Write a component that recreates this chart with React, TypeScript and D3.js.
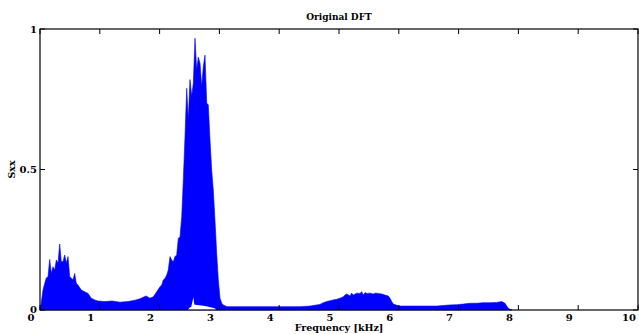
import React from "react";
import * as d3 from "d3";

// Frequency (kHz) and Sxx upper envelope
const freqs = [0, 0.017, 0.05, 0.079, 0.105, 0.134, 0.162, 0.189, 0.217, 0.246, 0.273, 0.301, 0.329, 0.356, 0.385, 0.413, 0.44, 0.468, 0.497, 0.523, 0.552, 0.58, 0.607, 0.635, 0.691, 0.747, 0.803, 0.858, 0.915, 0.97, 1.087, 1.204, 1.338, 1.472, 1.589, 1.672, 1.773, 1.839, 1.895, 1.952, 2.007, 2.035, 2.062, 2.09, 2.119, 2.145, 2.174, 2.202, 2.229, 2.258, 2.286, 2.313, 2.341, 2.37, 2.396, 2.425, 2.453, 2.48, 2.508, 2.537, 2.564, 2.592, 2.62, 2.647, 2.676, 2.704, 2.731, 2.759, 2.788, 2.814, 2.843, 2.871, 2.898, 2.926, 2.955, 2.982, 3.01, 3.039, 3.065, 3.127, 3.344, 3.679, 4.013, 4.348, 4.515, 4.627, 4.682, 4.737, 4.794, 4.849, 4.905, 4.962, 5.017, 5.072, 5.1, 5.129, 5.184, 5.212, 5.239, 5.296, 5.351, 5.38, 5.406, 5.435, 5.463, 5.518, 5.574, 5.602, 5.657, 5.714, 5.769, 5.824, 5.853, 5.881, 5.908, 5.965, 6.02, 6.355, 6.639, 6.689, 6.856, 6.968, 7.079, 7.191, 7.303, 7.413, 7.525, 7.637, 7.721, 7.776, 7.804, 7.831, 7.86, 7.893];
const sxx = [0, 0.02, 0.071, 0.095, 0.114, 0.118, 0.18, 0.13, 0.154, 0.142, 0.178, 0.166, 0.235, 0.172, 0.172, 0.196, 0.166, 0.19, 0.118, 0.114, 0.107, 0.13, 0.095, 0.089, 0.071, 0.065, 0.059, 0.042, 0.036, 0.032, 0.03, 0.032, 0.028, 0.03, 0.035, 0.04, 0.05, 0.042, 0.047, 0.065, 0.083, 0.089, 0.107, 0.112, 0.125, 0.142, 0.19, 0.178, 0.172, 0.19, 0.196, 0.255, 0.26, 0.332, 0.46, 0.617, 0.789, 0.676, 0.82, 0.76, 0.807, 0.967, 0.854, 0.9, 0.878, 0.795, 0.866, 0.907, 0.736, 0.73, 0.605, 0.498, 0.427, 0.32, 0.2, 0.107, 0.042, 0.024, 0.018, 0.012, 0.012, 0.012, 0.012, 0.012, 0.014, 0.018, 0.02, 0.026, 0.03, 0.033, 0.036, 0.038, 0.042, 0.047, 0.053, 0.057, 0.05, 0.06, 0.053, 0.06, 0.059, 0.065, 0.053, 0.062, 0.059, 0.06, 0.057, 0.06, 0.059, 0.057, 0.053, 0.05, 0.042, 0.03, 0.021, 0.017, 0.014, 0.014, 0.014, 0.015, 0.018, 0.019, 0.021, 0.024, 0.024, 0.026, 0.026, 0.027, 0.03, 0.024, 0.014, 0.006, 0.003, 0];

// White gap under the main peak (lower edge of the dense spikes)
const gapFreqs = [2.47, 2.5, 2.53, 2.55, 2.565, 2.58, 2.62, 2.7, 2.78, 2.85, 2.92, 2.95];
const gapVals = [0, 0.008, 0.012, 0.03, 0.045, 0.02, 0.018, 0.016, 0.013, 0.01, 0.006, 0];

const xTicks = [0, 1, 2, 3, 4, 5, 6, 7, 8, 9, 10];
const yTicks = [0, 0.5, 1];
const yTickLabels = ["0", "0.5", "1"];

const W = 639, H = 334;
const L = 40, R = 638, T = 29, B = 310;
const FONT = "'DejaVu Serif', serif";

export default function App() {
  const x = d3.scaleLinear().domain([0, 10]).range([L, R]);
  const y = d3.scaleLinear().domain([0, 1]).range([B, T]);
  const pts = freqs.map((f, i) => [f, sxx[i]] as [number, number]);
  const area = d3.area<[number, number]>().x(d => x(d[0])).y0(y(0)).y1(d => y(d[1]));
  const gap = gapFreqs.map((f, i) => [f, gapVals[i]] as [number, number]);
  const tl = 5;
  return (
    <div style={{ position: "fixed", left: 0, top: 0 }}>
      <svg width={W} height={H} style={{ display: "block", background: "#fff" }}>
        <path d={area(pts) || ""} fill="#0000ff" stroke="#0000ff" strokeWidth={0.6} />
        <path d={area(gap) || ""} fill="#ffffff" />
        <rect x={L} y={T} width={R - L} height={B - T} fill="none" stroke="#000" strokeWidth={1.2} />
        {xTicks.map(t => (
          <g key={"x" + t}>
            <line x1={x(t)} x2={x(t)} y1={B} y2={B - tl} stroke="#000" />
            <line x1={x(t)} x2={x(t)} y1={T} y2={T + tl} stroke="#000" />
            <text x={x(t) - 9} y={B + 11} textAnchor="middle" fontFamily={FONT} fontWeight="bold" fontSize={10}>{t}</text>
          </g>
        ))}
        {yTicks.map((t, i) => (
          <g key={"y" + t}>
            <line x1={L} x2={L + tl} y1={y(t)} y2={y(t)} stroke="#000" />
            <line x1={R} x2={R - tl} y1={y(t)} y2={y(t)} stroke="#000" />
            <text x={L - 3} y={y(t) - (t === 0 ? 1 : 0)} dy="0.35em" textAnchor="end" fontFamily={FONT} fontWeight="bold" fontSize={10}>{yTickLabels[i]}</text>
          </g>
        ))}
        <text x={339} y={20} textAnchor="middle" fontFamily={FONT} fontWeight="bold" fontSize={9}>Original DFT</text>
        <text x={339} y={331} textAnchor="middle" fontFamily={FONT} fontWeight="bold" fontSize={9.5}>Frequency [kHz]</text>
        <text transform={`translate(15,${(T + B) / 2}) rotate(-90)`} textAnchor="middle" fontFamily={FONT} fontWeight="bold" fontSize={9.5}>Sxx</text>
      </svg>
    </div>
  );
}
